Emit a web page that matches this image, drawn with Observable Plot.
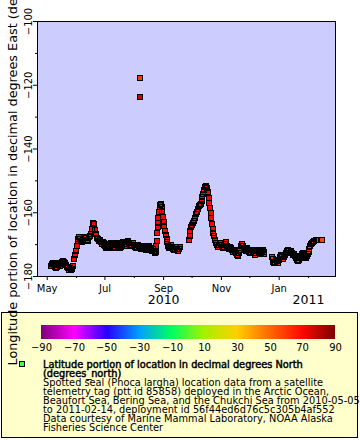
<!DOCTYPE html>
<html><head><meta charset="utf-8">
<script src="https://cdn.jsdelivr.net/npm/d3@7"></script>
<script src="https://cdn.jsdelivr.net/npm/@observablehq/plot@0.6"></script>
<style>
body{margin:0;background:#fff;font-family:"DejaVu Sans",sans-serif;}
#wrap{position:relative;width:360px;height:440px;overflow:hidden;}
#chart{position:absolute;left:0;top:0;z-index:2;}
#chart svg{overflow:visible;display:block;}
#legend{position:absolute;left:1px;top:312px;width:355px;height:124px;background:#ffffcc;border:1px solid #000;z-index:1;}
#marker{position:absolute;left:17px;top:48px;width:4px;height:4px;background:#44ff44;border:1px solid #000;}
#ltext{position:absolute;left:41px;top:47px;font-size:9.8px;line-height:9px;white-space:nowrap;color:#000;}
#ltext .t{-webkit-text-stroke:0.45px #000;}
</style></head>
<body>
<div id="wrap"><div id="chart"></div><div id="legend"><div id="marker"></div><div id="ltext"></div></div></div>
<script>
// ---- data (days after 2010-05-01, longitude °E, latitude °N) ----
const seg1Days = [4,5,6,7,8,9,10,11,12,13,
  14,15,16,17,18,19,20,21,22,23,
  24,25,26,27,28,29,30,31,32,33,
  34,35,36,37,38,39,40,41,42,43,
  44,45,46,47,48,48.8,49.6,50.5,51.5,52.5,
  53.5,54.5,55.5,56.5,57.5,58.5,59.5,60.5,61.5,62.5,
  63.5,64.5,65.5,66.5,67.5,68.5,69.5,70.5,71.5,72.5,
  73.5,74.5,75.5,76.5,77.5,78.5,79.5,80.5,81.5,82.5,
  83.5,84.5,85.5,86.5,87.5,88.5,89.5,90.5,91.5,92.5,
  93.5,94.5,95.5,96.5,97.6,97.8,98.5,99.5,100.5,101.5,
  102.5,103.5,104.5,105.5,106.5,107.5,108.5,109.5,110.5,111.5,
  112.5,113.5,114.5,115,115.5,116,116.5,117,117.5,118,
  118.7,119.4,120.1,120.8,121.5,122.2,123,123.8,124.6,125.4,
  126.2,127,128,129,130,131,132,133,134,135,
  136,137.5,138.5,139.5,140.5];
const seg1Lon = [-176.6,-176.1,-175.8,-176.3,-176.9,-177.4,-177.1,-176.5,-175.9,-176.2,
  -176.6,-176.0,-175.6,-175.0,-175.5,-175.9,-176.3,-176.9,-177.4,-177.9,
  -177.4,-178.0,-177.5,-176.7,-174.6,-173.3,-172.0,-170.4,-169.0,-168.2,
  -167.7,-168.1,-168.8,-169.1,-168.6,-168.0,-167.6,-168.0,-168.6,-169.0,
  -167.6,-167.3,-166.8,-165.0,-163.6,-163.1,-163.4,-165.3,-166.6,-167.8,
  -168.3,-168.9,-168.5,-169.1,-169.8,-169.3,-170.1,-169.6,-170.4,-171.1,
  -170.9,-171.1,-170.5,-169.8,-169.5,-170.0,-170.6,-171.1,-170.7,-170.1,
  -169.5,-169.8,-170.4,-171.0,-170.7,-170.1,-169.5,-169.3,-169.8,-170.4,
  -169.9,-169.3,-168.9,-169.4,-170.0,-170.5,-170.1,-169.6,-170.2,-170.8,
  -171.1,-170.6,-170.0,-170.5,-117.8,-123.75,-171.1,-171.4,-170.8,-170.3,
  -170.6,-171.2,-171.7,-171.3,-170.7,-170.4,-171.0,-171.6,-172.0,-171.5,
  -172.0,-172.6,-172.2,-170.5,-168.8,-166.5,-164.5,-163.3,-161.5,-159.8,
  -158.3,-157.5,-157.4,-158.2,-159.6,-161.3,-162.8,-164.3,-165.7,-167.0,
  -168.2,-169.3,-170.3,-171.1,-170.6,-170.2,-170.7,-171.3,-171.8,-171.4,
  -170.8,-171.4,-171.9,-171.5,-170.9];
const seg1Lat = [70.2,70.4,70.1,70.5,70.3,70.6,70.2,70.4,70.7,70.3,
  70.5,70.8,70.6,70.9,70.7,70.8,70.5,70.3,70.1,70.0,
  70.2,70.0,70.3,70.6,70.9,71.1,71.0,71.3,71.2,71.4,
  71.5,71.3,71.6,71.4,71.7,71.5,71.3,71.6,71.4,71.2,
  71.5,71.3,71.6,71.8,71.9,72.0,71.8,71.6,71.4,71.2,
  71.3,71.1,71.2,71.0,70.9,71.1,70.8,71.0,70.9,70.7,
  70.9,70.8,71.0,70.9,71.1,70.8,71.0,71.2,70.9,71.1,
  70.8,71.0,70.9,71.2,71.0,70.8,71.1,70.9,71.2,71.0,
  71.3,71.1,71.4,71.2,71.3,71.0,71.2,70.9,71.1,70.8,
  71.0,70.7,70.9,70.8,60.0,78.0,70.9,70.6,70.8,70.5,
  70.7,70.4,70.6,70.5,70.7,70.3,70.5,70.2,70.4,70.1,
  70.3,70.0,70.2,70.6,71.0,71.4,71.7,71.9,72.1,72.3,
  72.4,72.5,72.5,72.4,72.2,72.0,71.8,71.5,71.3,71.0,
  70.8,70.6,70.4,70.3,70.5,70.2,70.4,70.1,70.3,70.0,
  70.2,70.1,70.3,70.2,70.4];

const seg2Days = [149.5,150.3,151.1,152,153,154,155,156,157,158,
  159,160,161,162,163,164,165,165.8,166.6,167.4,
  168.2,169,169.8,170.5,171.2,171.9,172.6,173.3,174,174.8,
  175.6,176.5,177.5,178.5,179.5,180.5,181.5,182.5,183.5,184.5,
  185.5,186.5,187.5,188.5,189.5,190.5,191.5,192.5,193.5,194.5,
  195.5,196.5,197.5,198.5,199.5,200.5,201.5,202.5,203.5,204.5,
  205.5,206.5,207.5,208.5,209.5,210.5,211.5,212.5,213.5,214.5,
  215.5,216.5,217.5,218.5,219.5,220.5,221.5,222.5,223.5,224.5,
  225.5,226.5,227.5,228.5,229.5];
const seg2Lon = [-168.6,-167.2,-165.6,-164.6,-163.8,-163.2,-162.6,-161.6,-160.4,-159.7,
  -158.9,-158.0,-157.6,-157.1,-156.2,-155.2,-154.0,-152.8,-152.0,-151.6,
  -151.5,-152.2,-153.6,-155.3,-157.0,-158.4,-160.0,-161.8,-163.4,-165.0,
  -166.3,-167.4,-168.5,-169.4,-170.1,-170.6,-170.2,-169.6,-170.0,-170.6,
  -171.1,-170.6,-169.7,-169.1,-170.3,-170.9,-171.5,-171.1,-170.6,-171.2,
  -171.8,-172.2,-171.6,-172.1,-172.7,-173.2,-173.5,-172.6,-171.6,-170.5,
  -169.9,-170.4,-171.0,-171.6,-172.0,-171.4,-171.0,-171.6,-172.3,-172.7,
  -172.2,-171.6,-172.1,-172.7,-173.1,-172.6,-172.0,-171.8,-172.4,-173.0,
  -172.7,-172.1,-171.8,-172.3,-172.8];
const seg2Lat = [70.5,70.7,70.9,71.0,71.2,71.3,71.4,71.5,71.6,71.7,
  71.8,71.9,72.0,72.1,72.2,72.3,72.4,72.5,72.5,72.6,
  72.6,72.5,72.4,72.2,72.0,71.8,71.6,71.4,71.2,71.0,
  70.8,70.6,70.4,70.2,70.0,70.1,69.9,70.0,69.8,69.9,
  69.7,69.8,69.9,70.0,69.6,69.4,69.5,69.2,69.3,69.0,
  68.9,68.7,68.8,68.5,68.2,67.9,67.7,67.9,68.1,68.3,
  68.4,68.2,67.9,67.7,67.8,67.5,67.6,67.3,67.1,67.2,
  66.9,67.0,66.7,66.8,66.5,66.6,66.3,66.4,66.2,66.3,
  66.0,66.1,65.8,65.9,65.7];

const seg3Days = [237,238,239,240,241,242,243,244,245,246,
  247,248,249,250,251,252,253,254,255,256,
  257,258,259,260,261,262,263,264,265,266,
  267,268,269,270,271,272,273,274,275,276,
  277,278,279,280,281,282,283.5,289.8];
const seg3Lon = [-174.0,-174.6,-175.3,-175.8,-175.3,-174.8,-175.2,-175.7,-174.8,-173.9,
  -173.1,-173.6,-174.4,-173.9,-173.3,-172.6,-172.0,-171.6,-172.1,-172.7,
  -172.3,-171.9,-172.5,-173.2,-173.0,-173.6,-174.2,-174.8,-175.1,-174.7,
  -174.2,-173.6,-173.0,-172.6,-173.2,-173.9,-174.1,-173.5,-172.8,-172.2,
  -171.3,-170.3,-169.8,-169.4,-169.1,-168.9,-168.7,-168.5];
const seg3Lat = [62.5,62.3,62.4,62.1,62.2,61.9,62.0,61.8,61.7,61.5,
  61.6,61.4,61.5,61.2,61.3,61.0,61.1,60.8,60.9,60.7,
  60.6,60.4,60.5,60.2,60.3,60.0,60.1,59.8,59.9,59.7,
  59.6,59.4,59.5,59.2,59.3,59.0,59.1,58.8,58.9,58.7,
  58.6,58.4,58.5,58.3,58.2,58.1,58.0,57.8];

// ---- axes, ticks and texts ----
const yMajor = [-180, -160, -140, -120, -100];
const yMinor = [-170, -150, -130, -110];
const xMajorDates = ["2010-05-01", "2010-07-01", "2010-09-01", "2010-11-01", "2011-01-01"];
const xMajorLabels = ["May", "Jul", "Sep", "Nov", "Jan"];
const xMinorDates = ["2010-06-01", "2010-08-01", "2010-10-01", "2010-12-01", "2011-02-01"];
const yearLabels = ["2010", "2011"];
const yearDates = ["2010-09-01", "2011-02-01"];
const xDomain = ["2010-04-20T18:00Z", "2011-03-01T12:00Z"];
const yDomain = [-180, -100];
const yTitle = "Longitude portion of location in decimal degrees East (degrees_east)";
const colorStops = [-90, -70, -50, -30, -10, 10, 30, 50, 70, 90];
const colorRange = ["#800080", "#ff00ff", "#2800ff", "#00a0ff", "#00ff60", "#a8f000", "#ffd000", "#ff6a00", "#ff0800", "#800000"];
const legendTitle = ["Latitude portion of location in decimal degrees North", "(degrees_north)"];
const legendBody = [
  "Spotted seal (Phoca largha) location data from a satellite",
  "telemetry tag (ptt id 85858) deployed in the Arctic Ocean,",
  "Beaufort Sea, Bering Sea, and the Chukchi Sea from 2010-05-05",
  "to 2011-02-14, deployment id 56f44ed6d76c5c305b4af552",
  "Data courtesy of Marine Mammal Laboratory, NOAA Alaska",
  "Fisheries Science Center"
];

// ---- build table ----
const start = Date.UTC(2010, 4, 1);
const track = [];
[[seg1Days, seg1Lon, seg1Lat], [seg2Days, seg2Lon, seg2Lat], [seg3Days, seg3Lon, seg3Lat]]
  .forEach(([ds, lo, la]) => ds.forEach((d, i) => track.push({date: new Date(start + d * 864e5), lon: lo[i], lat: la[i]})));

const monthLabel = new Map(xMajorDates.map((s, i) => [+new Date(s), xMajorLabels[i]]));

const chart = Plot.plot({
  width: 360, height: 312,
  marginLeft: 37, marginRight: 25, marginTop: 21, marginBottom: 36,
  style: {fontFamily: "DejaVu Sans", fontSize: "10px", background: "transparent", overflow: "visible", color: "black"},
  x: {type: "utc", domain: xDomain.map(s => new Date(s))},
  y: {domain: yDomain},
  color: {type: "linear", domain: colorStops, range: colorRange, interpolate: "rgb"},
  marks: [
    Plot.frame({fill: "#ccccff", stroke: "none"}),
    // marker fills first, then all outlines on top
    Plot.dot(track, {x: "date", y: "lon", fill: "lat", symbol: "square", r: 2.82, stroke: "none", shapeRendering: "crispEdges"}),
    Plot.dot(track, {x: "date", y: "lon", fill: "none", symbol: "square", r: 2.82, stroke: "black", strokeWidth: 1, shapeRendering: "crispEdges"}),
    Plot.frame({stroke: "black", strokeWidth: 1}),
    Plot.axisY({ticks: yMajor, tickSize: 4, tickPadding: 5, tickRotate: -90, lineAnchor: "middle", label: null}),
    Plot.axisY({ticks: yMinor, tickSize: 2, tickFormat: () => "", label: null}),
    Plot.axisX({ticks: xMajorDates.map(s => new Date(s)), tickSize: 4, tickPadding: 4, tickFormat: d => monthLabel.get(+d), label: null}),
    Plot.axisX({ticks: xMinorDates.map(s => new Date(s)), tickSize: 2, tickFormat: () => "", label: null}),
    Plot.text(yearLabels, {x: yearDates.map(s => new Date(s)), text: d => d, frameAnchor: "bottom", dy: 27, fontSize: 12.5}),
    Plot.text([yTitle], {text: d => d, frameAnchor: "bottom-left", dx: -24.5, dy: 89, rotate: -90, textAnchor: "start", lineAnchor: "middle", fontSize: 12.8})
  ]
});
document.getElementById("chart").appendChild(chart);

const leg = chart.legend("color", {
  width: 324, height: 34, marginTop: 0, marginBottom: 20, marginLeft: 15, marginRight: 15,
  tickSize: 2, ticks: colorStops, label: null,
  style: {fontFamily: "DejaVu Sans", fontSize: "10px", background: "transparent", overflow: "visible", color: "black"}
});
d3.select(leg).selectAll(".tick line").remove();
leg.style.position = "absolute";
leg.style.left = "24px";
leg.style.top = "12px";
document.getElementById("legend").appendChild(leg);

const lt = document.getElementById("ltext");
lt.innerHTML = legendTitle.map(s => `<div class="t">${s}</div>`).join("") + legendBody.map(s => `<div>${s}</div>`).join("");
</script>
</body></html>
